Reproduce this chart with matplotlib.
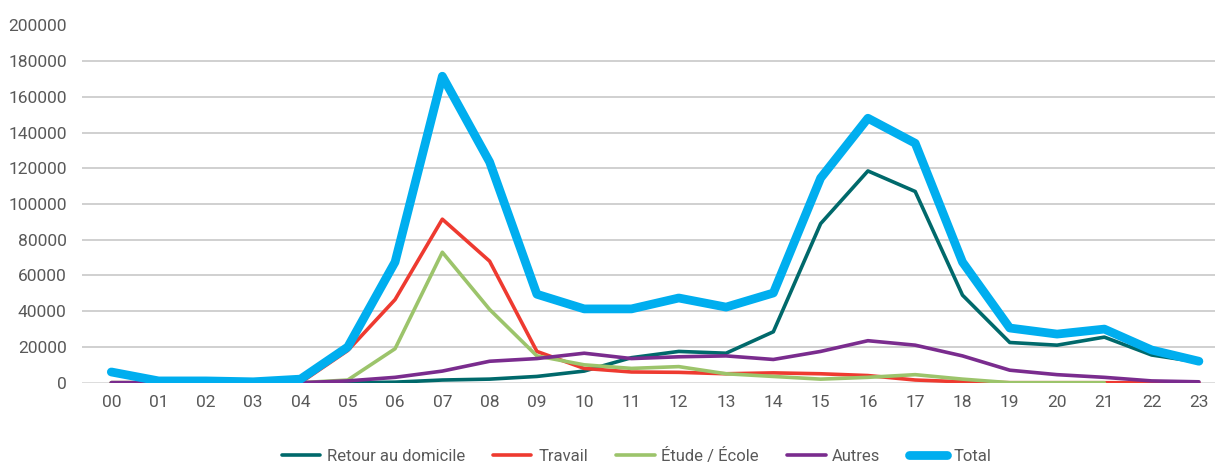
import numpy as np
import matplotlib.pyplot as plt

hours = ["%02d" % h for h in range(24)]

retour = [0, 0, 0, 0, 0, 0, 300, 1500, 2000, 3500, 6500, 14000,
          17500, 16500, 28500, 89000, 118500, 107000, 49000, 22500, 21000, 25500, 15500, 11500]
travail = [0, 0, 0, 0, 0, 18000, 46500, 91500, 68000, 17500, 8000, 6000,
           5800, 5000, 5500, 5000, 4000, 1500, 500, 0, 0, 0, 0, 0]
etude = [0, 0, 0, 0, 0, 1500, 19000, 73000, 41000, 15000, 10000, 8000,
         9000, 5000, 3500, 2000, 3000, 4500, 2000, 0, 0, 0, np.nan, np.nan]
autres = [0, 0, 0, 0, 0, 1000, 3000, 6500, 12000, 13500, 16500, 13500,
          14500, 15000, 13000, 17500, 23500, 21000, 15000, 7000, 4500, 3000, 1000, 500]
total = [6000, 1000, 1000, 500, 2000, 20000, 67500, 171500, 123500, 49500, 41300, 41300,
         47400, 42300, 50200, 114500, 148000, 134000, 67500, 30600, 27200, 30000, 18300, 12000]

series = [
    ("Retour au domicile", retour, "#00696b", 2.6),
    ("Travail", travail, "#ee3a30", 2.6),
    ("Étude / École", etude, "#9cc46b", 2.6),
    ("Autres", autres, "#7a2c8e", 2.6),
    ("Total", total, "#00aeef", 6.3),
]

plt.rcParams['font.family'] = ['Roboto', 'DejaVu Sans']

fig = plt.figure(figsize=(12.15, 4.63), dpi=100)
ax = fig.add_axes([82 / 1215, (463 - 382.7) / 463, 1 - 82 / 1215, (382.7 - 25.3) / 463])

x = np.arange(len(hours))
for label, vals, color, lw in series:
    ax.plot(x, vals, color=color, lw=lw, label=label,
            solid_capstyle='round', solid_joinstyle='round')

yticks = np.arange(0, 200001, 20000)
for yv in yticks[1:-1]:
    ax.axhline(yv, color="#c4c4c4", lw=1.1, zorder=0)
ax.axhline(0, color="#d9d9d9", lw=2, zorder=0)

ax.set_xlim(-0.62, 23.34)
ax.set_ylim(0, 200000)
ax.set_xticks(x)
ax.set_xticklabels(hours)
ax.set_yticks(yticks)
ax.set_yticklabels([str(v) for v in yticks])
ax.tick_params(axis='both', length=0, labelsize=12.5, colors="#595959")
ax.tick_params(axis='y', pad=11)
ax.tick_params(axis='x', pad=9)
for s in ax.spines.values():
    s.set_visible(False)

fig.legend(loc='center', bbox_to_anchor=(0.524, 1 - 456 / 463), ncol=5, frameon=False,
           fontsize=12, handlelength=2.3, columnspacing=1.7, handletextpad=0.4,
           labelcolor="#595959")

fig.savefig("out.png", dpi=100)
